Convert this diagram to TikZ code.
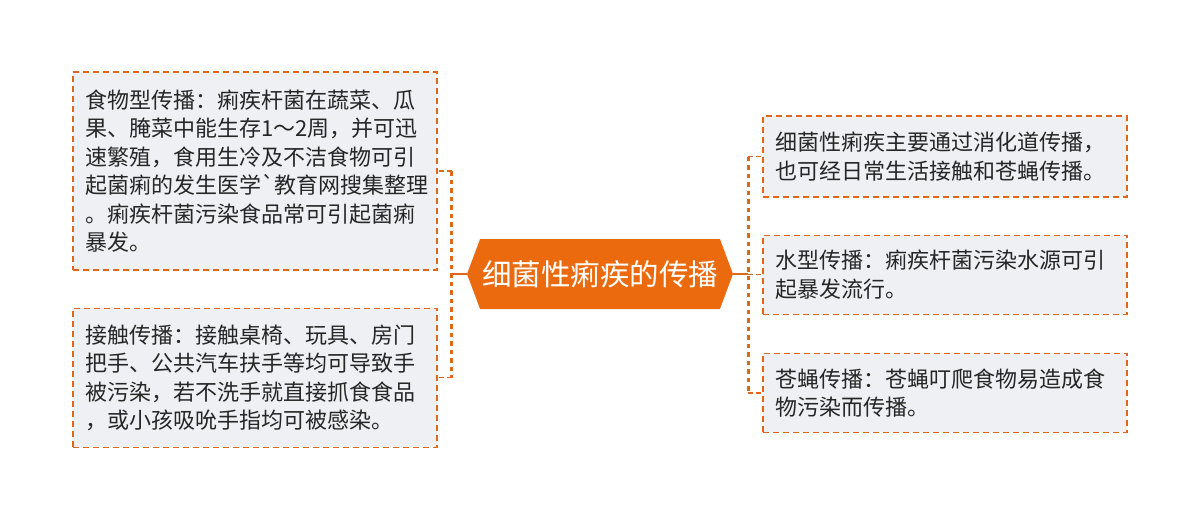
\documentclass[tikz,border=0pt]{standalone}
\usepackage{fontspec}
\newfontfamily\cjk{Noto Sans CJK SC}
\usetikzlibrary{positioning,shapes.symbols}
\definecolor{brorange}{HTML}{E0661A}
\definecolor{rootfill}{HTML}{EC6A0E}
\definecolor{leaffill}{HTML}{EEF0F3}
\definecolor{leaftext}{HTML}{262626}

\begin{document}
\begin{tikzpicture}[x=1pt, y=-1pt,
	root/.style={shape=signal, signal to=east and west, signal pointer angle=139, fill=rootfill, text=white, minimum width=266pt, minimum height=70pt, inner sep=0pt, font={\cjk\fontsize{29.5}{34}\selectfont}},
	leaf/.style={rectangle, draw=brorange, dash pattern=on 6pt off 4pt, line width=1.2pt, fill=leaffill, text=leaftext, align=left, text width=340pt, inner xsep=12pt, inner ysep=0pt, font={\cjk\fontsize{22}{28.5}\selectfont}},
	stem/.style={draw=brorange, line width=2pt},
	bracket/.style={draw=brorange, line width=2.6pt, dash pattern=on 4.5pt off 4pt},
	twig/.style={draw=brorange, line width=1.5pt, dash pattern=on 5pt off 3pt}
	]
	\useasboundingbox (0,0) rectangle (1200,519);

	\node (root) [root] at (600,274) {细菌性痢疾的传播};

		\node (food) [leaf, minimum height=198pt] at (255,171) {食物型传播：痢疾杆菌在蔬菜、瓜\\果、腌菜中能生存1～2周，并可迅\\速繁殖，食用生冷及不洁食物可引\\起菌痢的发生医学`教育网搜集整理\\。痢疾杆菌污染食品常可引起菌痢\\暴发。};
		\node (touch) [leaf, minimum height=139pt, below=37pt of food] {接触传播：接触桌椅、玩具、房门\\把手、公共汽车扶手等均可导致手\\被污染，若不洗手就直接抓食食品\\，或小孩吸吮手指均可被感染。};

		\node (route) [leaf, minimum height=81pt] at (945,156.5) {细菌性痢疾主要通过消化道传播，\\也可经日常生活接触和苍蝇传播。};
		\node (water) [leaf, minimum height=79pt, below=37pt of route] {水型传播：痢疾杆菌污染水源可引\\起暴发流行。};
		\node (fly) [leaf, minimum height=79pt, below=38pt of water] {苍蝇传播：苍蝇叮爬食物易造成食\\物污染而传播。};

	\coordinate (lhub) at ([xshift=-15pt]root.west);
	\coordinate (rhub) at ([xshift=15pt]root.east);

	\draw [stem] (root.west)--(lhub);
	\draw [bracket] (lhub |- food.east)--(lhub |- touch.east);
	\draw [twig] (lhub |- food.east)--(food.east);
	\draw [twig] (lhub |- touch.east)--(touch.east);

	\draw [stem] (root.east)--(rhub);
	\draw [bracket] (rhub |- route.west)--(rhub |- fly.west);
	\draw [twig] (rhub |- route.west)--(route.west);
	\draw [twig] (rhub |- water.west)--(water.west);
	\draw [twig] (rhub |- fly.west)--(fly.west);

	\end{tikzpicture}
\end{document}
